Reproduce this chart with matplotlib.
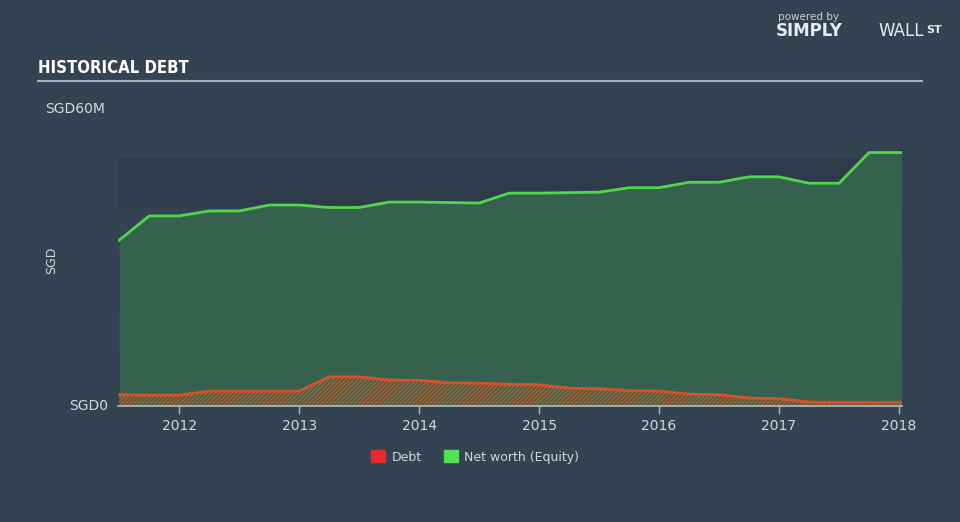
#! /usr/bin/env python

import matplotlib
matplotlib.use('Agg')
import matplotlib.pyplot as plt
from matplotlib.patches import Patch

# quarterly points, year as decimal
dates = [2011.5, 2011.75, 2012.0, 2012.25, 2012.5, 2012.75, 2013.0, 2013.25,
         2013.5, 2013.75, 2014.0, 2014.25, 2014.5, 2014.75, 2015.0, 2015.25,
         2015.5, 2015.75, 2016.0, 2016.25, 2016.5, 2016.75, 2017.0, 2017.25,
         2017.5, 2017.75, 2018.02]

# SGD millions
equity = [33.5, 38.4, 38.4, 39.4, 39.4, 40.6, 40.6, 40.1,
          40.1, 41.2, 41.2, 41.1, 41.0, 43.0, 43.0, 43.1,
          43.2, 44.1, 44.1, 45.2, 45.2, 46.3, 46.3, 45.0,
          45.0, 51.2, 51.2]

debt = [2.3, 2.2, 2.2, 3.0, 3.0, 3.0, 3.0, 5.9,
        5.9, 5.25, 5.2, 4.7, 4.6, 4.4, 4.3, 3.6,
        3.5, 3.1, 3.0, 2.4, 2.3, 1.6, 1.5, 0.8,
        0.8, 0.75, 0.75]

years = [2012, 2013, 2014, 2015, 2016, 2017, 2018]

bg = '#344352'
band = '#2e3b4b'
txt = '#d2d8de'

plt.rcParams['hatch.linewidth'] = 0.7

fig = plt.figure(figsize=(9.6, 5.22), dpi=100, facecolor=bg)
ax = fig.add_axes([0.1229, 0.2222, 0.8167, 0.569])
ax.set_facecolor(bg)

# alternating background bands, 10M each
for lo in (0, 20, 40):
    ax.axhspan(lo, lo + 10, color=band, zorder=0, lw=0)

ax.fill_between(dates, 0, equity, color='#386850', alpha=0.85, lw=0, zorder=1)
ax.plot(dates, equity, color='#4fd84a', lw=2, zorder=3)

ax.fill_between(dates, 0, debt, facecolor='#4a6048', edgecolor='#c8602e',
                hatch='////////', lw=0, zorder=2)
ax.plot(dates, debt, color='#d9512a', lw=2, zorder=3)

ax.set_xlim(2011.49, 2018.025)
ax.set_ylim(0, 60)
ax.set_xticks(years)
ax.set_xticklabels([str(y) for y in years])
ax.set_yticks([])
ax.tick_params(axis='x', colors='#aab3bd', labelcolor=txt, labelsize=10,
               length=6, width=1, pad=3)
for s in ('top', 'right', 'left'):
    ax.spines[s].set_visible(False)
ax.spines['bottom'].set_color('#b4bcc5')
ax.spines['bottom'].set_linewidth(1.2)

ax.text(-0.012, 0, 'SGD0', transform=ax.get_yaxis_transform(),
        ha='right', va='center', color=txt, fontsize=10)
fig.text(45 / 960, 1 - 109 / 522, 'SGD60M', color=txt, fontsize=10,
         ha='left', va='center')
fig.text(52 / 960, 1 - 260 / 522, 'SGD', color=txt, fontsize=9,
         rotation=90, ha='center', va='center')

# title and rule
fig.text(38 / 960, 1 - 68 / 522, 'HISTORICAL DEBT', color='white',
         fontsize=12, fontweight='bold', family='DejaVu Sans',
         fontstretch='condensed', va='center')
fig.add_artist(plt.Line2D([38 / 960, 922 / 960], [1 - 81 / 522] * 2,
                          color='#a9b0b8', lw=1.5))

# logo text
fig.text(778 / 960, 1 - 17 / 522, 'powered by', color='#c8cdd2', fontsize=7.5,
         va='center')
fig.text(776 / 960, 1 - 31 / 522, 'SIMPLY', color='#e8ebee', fontsize=12,
         fontweight='bold', va='center')
fig.text(878 / 960, 1 - 31 / 522, 'WALL', color='#e8ebee', fontsize=12,
         va='center')
fig.text(926 / 960, 1 - 30 / 522, 'ST', color='#e8ebee', fontsize=8,
         fontweight='bold', va='center')

handles = [Patch(color='#e82a2a', label='Debt'),
           Patch(color='#52e052', label='Net worth (Equity)')]
fig.legend(handles=handles, loc='center', bbox_to_anchor=(0.495, 1 - 457 / 522),
           ncol=2, frameon=False, labelcolor=txt, fontsize=9,
           handlelength=1.1, handleheight=1.1, columnspacing=1.8,
           handletextpad=0.5)

fig.savefig('out.png', dpi=100, facecolor=bg)
